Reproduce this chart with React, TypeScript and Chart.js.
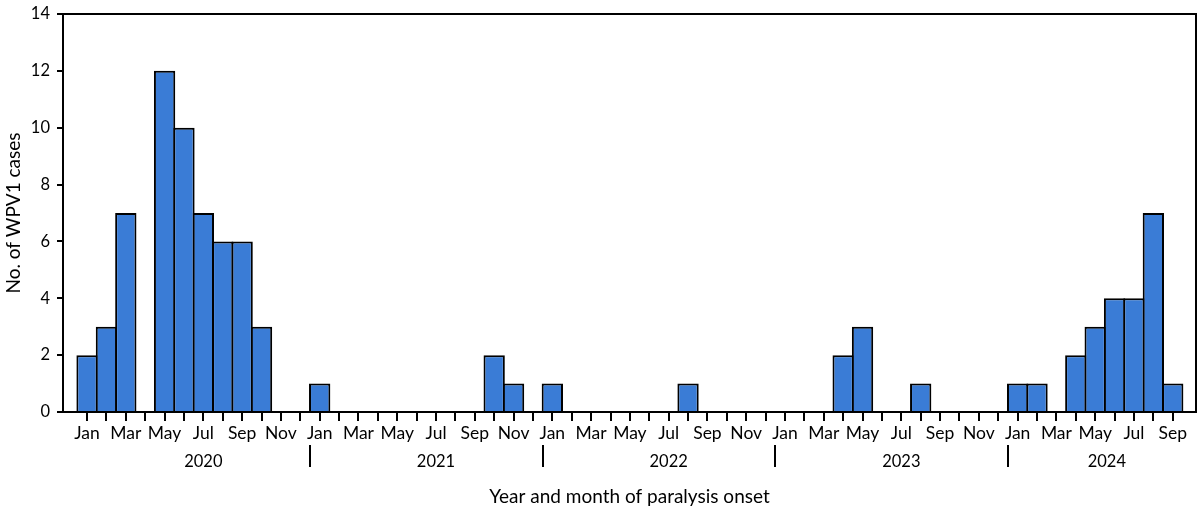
import React, { useEffect, useRef } from "react";
import { Chart, registerables } from "chart.js";

Chart.register(...registerables);

const monthNames = ["Jan", "Feb", "Mar", "Apr", "May", "Jun", "Jul", "Aug", "Sep", "Oct", "Nov", "Dec"];
const years = ["2020", "2021", "2022", "2023", "2024"];
// Monthly case counts, Jan 2020 .. Sep 2024
const cases2020 = [2, 3, 7, 0, 12, 10, 7, 6, 6, 3, 0, 0];
const cases2021 = [1, 0, 0, 0, 0, 0, 0, 0, 0, 2, 1, 0];
const cases2022 = [1, 0, 0, 0, 0, 0, 0, 1, 0, 0, 0, 0];
const cases2023 = [0, 0, 0, 2, 3, 0, 0, 1, 0, 0, 0, 0];
const cases2024 = [1, 1, 0, 2, 3, 4, 4, 7, 1];
const yearLabelPositions = [6, 18, 30, 42, 52.6];
const yTicks = [0, 2, 4, 6, 8, 10, 12, 14];

const FONT = "Lato";
const BAR_COLOR = "#3a7cd6";

export default function App() {
  const canvasRef = useRef<HTMLCanvasElement | null>(null);

  useEffect(() => {
    document.body.style.margin = "0";
    const canvas = canvasRef.current;
    if (!canvas) return;
    const allCases = [...cases2020, ...cases2021, ...cases2022, ...cases2023, ...cases2024];
    const n = allCases.length;
    const points = allCases.map((v, i) => ({ x: i, y: v === 0 ? null : v }));

    const decor = {
      id: "decor",
      afterDraw(chart: any) {
        const { ctx, chartArea } = chart;
        const xs = chart.scales.x;
        ctx.save();
        ctx.strokeStyle = "#000";
        ctx.lineWidth = 2;
        ctx.beginPath();
        ctx.moveTo(chartArea.left, chartArea.top);
        ctx.lineTo(chartArea.right, chartArea.top);
        ctx.lineTo(chartArea.right, chartArea.bottom);
        ctx.stroke();
        // year separators
        for (let k = 1; k < years.length; k++) {
          const px = Math.round(xs.getPixelForValue(k * 12 - 0.5));
          ctx.beginPath();
          ctx.moveTo(px, 445);
          ctx.lineTo(px, 467);
          ctx.stroke();
        }
        ctx.fillStyle = "#000";
        ctx.font = `16.5px ${FONT}`;
        ctx.textAlign = "center";
        ctx.textBaseline = "middle";
        years.forEach((y, i) => {
          ctx.fillText(y, xs.getPixelForValue(yearLabelPositions[i]), 462);
        });
        ctx.restore();
      },
    };

    const chart = new Chart(canvas, {
      type: "bar",
      data: {
        datasets: [
          {
            data: points as any,
            backgroundColor: BAR_COLOR,
            borderColor: "#000",
            borderWidth: 2,
            barPercentage: 1.1,
            categoryPercentage: 1,
          },
        ],
      },
      options: {
        animation: false,
        responsive: false,
        maintainAspectRatio: false,
        layout: { padding: { top: 14, right: 4, left: 0, bottom: 0 } },
        plugins: { legend: { display: false }, tooltip: { enabled: false } },
        scales: {
          x: {
            type: "linear",
            min: -1.24,
            max: 57.2,
            offset: false,
            afterFit: (s: any) => {
              s.height = 104;
              s.paddingLeft = 0;
              s.paddingRight = 0;
              s.paddingTop = 0;
              s.paddingBottom = 0;
            },
            afterBuildTicks: (s: any) => {
              s.ticks = s.ticks.filter((t: any) => Number.isInteger(t.value) && t.value >= 0 && t.value < n);
            },
            ticks: {
              stepSize: 1,
              includeBounds: false,
              autoSkip: false,
              maxRotation: 0,
              padding: 2,
              color: "#000",
              font: { family: FONT, size: 17.5 },
              callback: (v: any) => {
                const i = Number(v);
                return i % 2 === 0 ? monthNames[i % 12] : "";
              },
            },
            grid: { offset: false, drawOnChartArea: false, drawTicks: true, tickLength: 9, color: "#000", lineWidth: 2 },
            border: { display: true, color: "#000", width: 2 },
            title: {
              display: true,
              text: "Year and month of paralysis onset",
              color: "#000",
              font: { family: FONT, size: 19 },
              padding: { top: 0, bottom: 8 },
            },
          },
          y: {
            min: 0,
            max: 14,
            afterFit: (s: any) => {
              s.width = 63;
              s.paddingLeft = 0;
              s.paddingRight = 0;
              s.paddingTop = 0;
              s.paddingBottom = 0;
            },
            afterBuildTicks: (s: any) => {
              s.ticks = yTicks.map((v) => ({ value: v }));
            },
            ticks: {
              stepSize: 2,
              padding: 7,
              color: "#000",
              font: { family: FONT, size: 16.5 },
            },
            grid: { drawOnChartArea: false, drawTicks: true, tickLength: 6, color: "#000", lineWidth: 2 },
            border: { display: true, color: "#000", width: 2 },
            title: {
              display: true,
              text: "No. of WPV1 cases",
              color: "#000",
              font: { family: FONT, size: 19 },
              padding: { top: 2, bottom: 0 },
            },
          },
        },
      },
      plugins: [decor],
    });
    return () => chart.destroy();
  }, []);

  return (
    <div style={{ width: 1200, height: 516 }}>
      <canvas ref={canvasRef} width={1200} height={516} style={{ display: "block", width: 1200, height: 516 }} />
    </div>
  );
}
